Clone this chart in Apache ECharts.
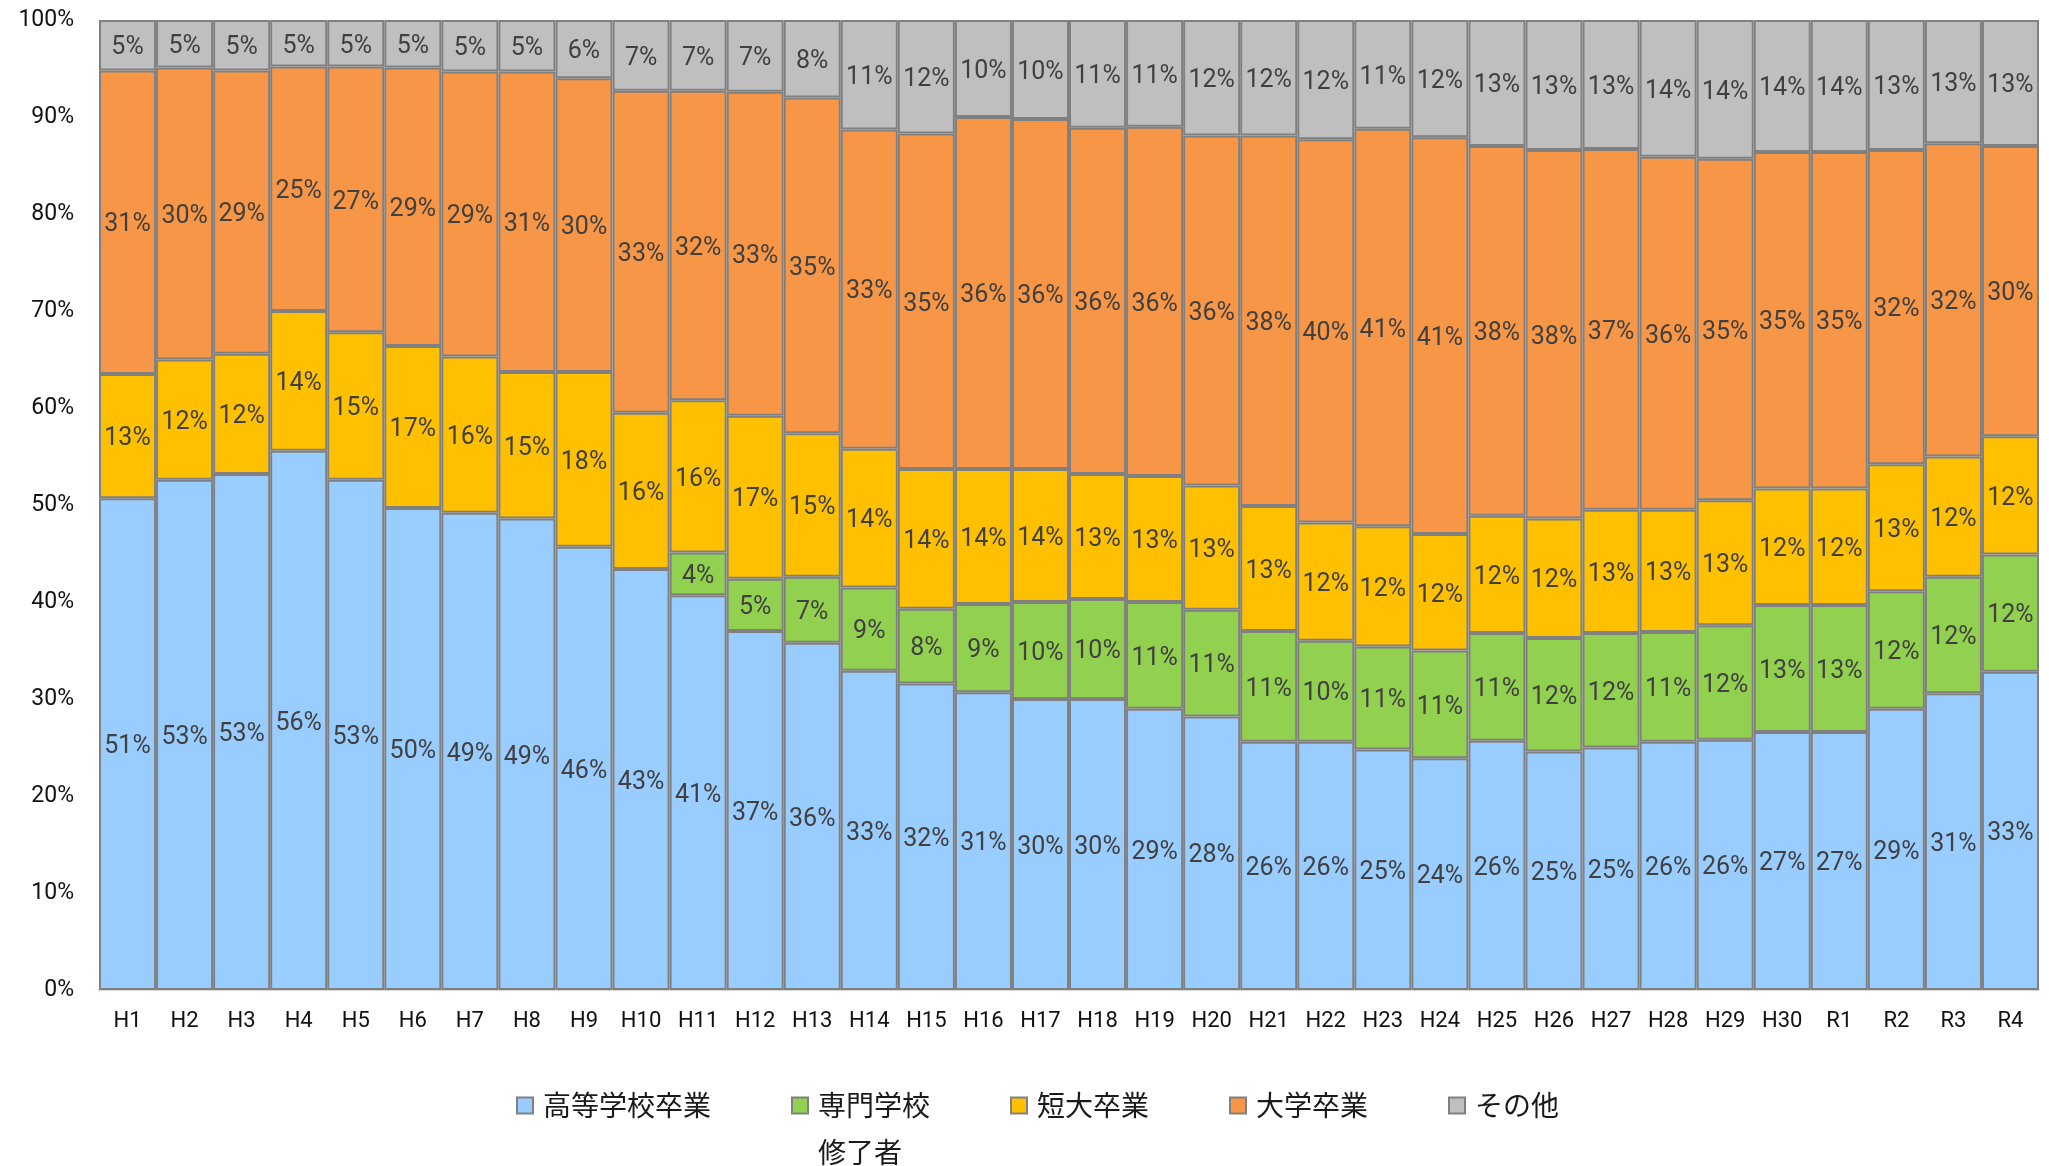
<!DOCTYPE html>
<html>
<head>
<meta charset="utf-8">
<script src="https://cdn.jsdelivr.net/npm/echarts@6/dist/echarts.min.js"></script>
<style>
html,body{margin:0;padding:0;background:#fff;}
#chart{width:2049px;height:1166px;}
</style>
</head>
<body>
<div id="chart"></div>
<script>
var categories = ['H1','H2','H3','H4','H5','H6','H7','H8','H9','H10','H11','H12','H13','H14','H15','H16','H17','H18','H19','H20','H21','H22','H23','H24','H25','H26','H27','H28','H29','H30','R1','R2','R3','R4'];
var seriesNames = ['高等学校卒業','専門学校修了者','短大卒業','大学卒業','その他'];
var highSchool = [50.7,52.6,53.2,55.6,52.6,49.7,49.2,48.6,45.7,43.4,40.7,37.0,35.8,32.9,31.6,30.7,30.0,30.0,29.0,28.2,25.6,25.6,24.8,23.9,25.7,24.6,25.0,25.6,25.8,26.6,26.6,29.0,30.6,32.8];
var vocational = [null,null,null,null,null,null,null,null,null,null,4.4,5.4,6.8,8.6,7.7,9.1,10.0,10.3,11.0,11.0,11.4,10.4,10.6,11.1,11.1,11.7,11.8,11.3,11.8,13.1,13.1,12.1,12.0,12.1];
var juniorCollege = [12.8,12.4,12.4,14.4,15.2,16.7,16.1,15.1,18.0,16.1,15.7,16.8,14.8,14.3,14.4,13.9,13.7,12.9,13.0,12.8,12.9,12.2,12.4,12.0,12.1,12.3,12.7,12.6,12.9,12.0,12.0,13.1,12.4,12.2];
var university = [31.3,30.1,29.2,25.2,27.4,28.7,29.4,31.0,30.3,33.2,31.9,33.4,34.6,32.9,34.6,36.3,36.1,35.7,36.0,36.1,38.2,39.5,41.0,40.9,38.1,38.0,37.2,36.4,35.2,34.7,34.7,32.4,32.3,29.9];
var others = [5.2,4.9,5.2,4.8,4.8,4.9,5.3,5.3,6.0,7.3,7.3,7.4,8.0,11.3,11.7,10.0,10.2,11.1,11.0,11.9,11.9,12.3,11.2,12.1,13.0,13.4,13.3,14.1,14.3,13.6,13.6,13.4,12.7,13.0];
var colors = ['#99CCFF','#92D050','#FFC000','#F79646','#BFBFBF'];
var yTicks = [0,10,20,30,40,50,60,70,80,90,100];

var valuesList = [highSchool, vocational, juniorCollege, university, others];

var chart = echarts.init(document.getElementById('chart'));

function makeSeries(i){
  return {
    name: seriesNames[i],
    type: 'bar',
    stack: 'total',
    barCategoryGap: '0%',
    data: valuesList[i],
    itemStyle: { color: colors[i], borderColor: '#808080', borderWidth: 2 },
    label: {
      show: true,
      position: 'inside',
      offset: [0, 3],
      color: '#404040',
      fontFamily: 'Roboto',
      fontSize: 25,
      formatter: function(p){ return (p.value == null) ? '' : Math.round(p.value) + '%'; }
    },
    emphasis: { disabled: true }
  };
}

var option = {
  animation: false,
  backgroundColor: '#ffffff',
  grid: { left: 99, right: 10, top: 20, bottom: 176, containLabel: false },
  xAxis: {
    type: 'category',
    data: categories,
    axisLine: { show: true, lineStyle: { color: '#D9D9D9', width: 2 } },
    axisTick: { show: false },
    axisLabel: { color: '#111111', fontFamily: 'Roboto', fontSize: 22, margin: 20, interval: 0 }
  },
  yAxis: {
    type: 'value',
    min: 0,
    max: 100,
    interval: 10,
    axisLine: { show: false },
    axisTick: { show: false },
    splitLine: { show: false },
    axisLabel: {
      color: '#111111', fontFamily: 'Roboto', fontSize: 23, margin: 25,
      formatter: function(v){ return yTicks.indexOf(v) >= 0 ? v + '%' : ''; }
    }
  },
  legend: {
    left: 516,
    top: 1035,
    padding: 0,
    icon: 'rect',
    itemWidth: 16,
    itemHeight: 16,
    itemGap: 80,
    selectedMode: false,
    textStyle: { fontFamily: 'Noto Sans CJK JP', fontSize: 28, color: '#1a1a1a', padding: [0,0,0,5], lineHeight: 47 },
    formatter: function(name){ return name === '専門学校修了者' ? '\n専門学校\n修了者' : name; },
    data: seriesNames.map(function(n){ return { name: n }; })
  },
  series: [0,1,2,3,4].map(makeSeries)
};
chart.setOption(option);
</script>
</body>
</html>
